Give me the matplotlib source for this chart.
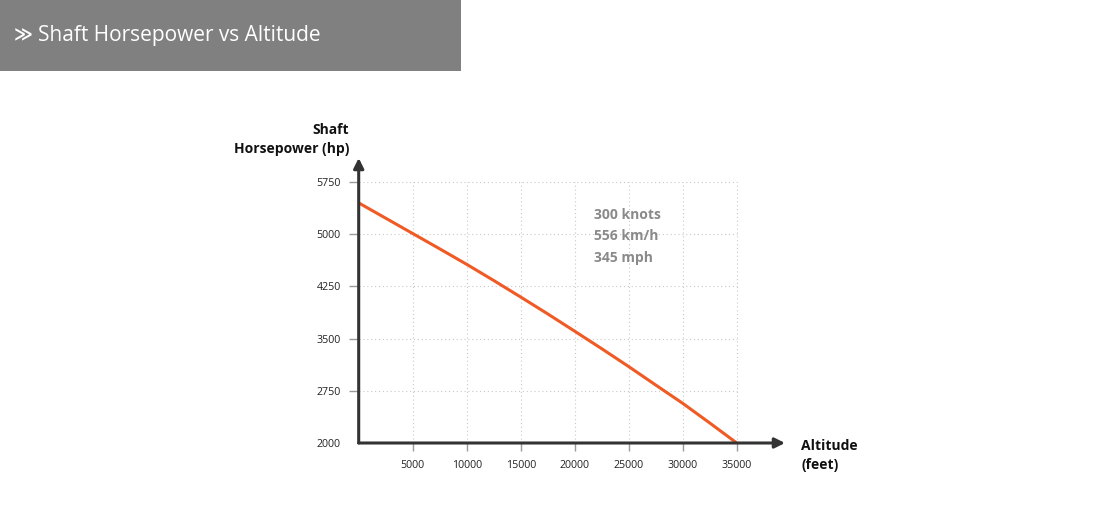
import numpy as np
import matplotlib.pyplot as plt
from matplotlib.patches import Rectangle

plt.rcParams['font.family'] = ['Open Sans', 'DejaVu Sans']

# Datos
altitud = [0, 2500, 5000, 7500, 10000, 12500, 15000, 17500,
           20000, 22500, 25000, 27500, 30000, 32500, 35000]
potencia = [5450, 5230, 5010, 4790, 4567, 4335, 4097, 3855,
            3606, 3355, 3098, 2833, 2570, 2288, 2000]

xticks = [5000, 10000, 15000, 20000, 25000, 30000, 35000]
yticks = [2000, 2750, 3500, 4250, 5000, 5750]
nota = ["300 knots", "556 km/h", "345 mph"]

fig = plt.figure(figsize=(11, 5.3), dpi=100)

# Cabecera gris
fig.patches.append(Rectangle((0, 1 - 71 / 530), 461 / 1100, 71 / 530,
                             transform=fig.transFigure, facecolor='#808080',
                             edgecolor='none'))
fig.text(14 / 1100, 1 - 35 / 530, "\u226B", color='white', fontsize=13,
         va='center', ha='left', family=['DejaVu Sans'], fontweight='bold')
fig.text(38 / 1100, 1 - 35 / 530, "Shaft Horsepower vs Altitude", color='white',
         fontsize=15, va='center', ha='left')

ax = fig.add_axes([358.7 / 1100, 87 / 530, 426.3 / 1100, 285 / 530])
ax.set_xlim(0, 39470)
ax.set_ylim(2000, 6095)

# Rejilla punteada limitada al area de datos
ax.hlines(yticks[1:], 0, 35000, colors='#c8c8c8', linestyles=(0, (1, 2.5)), linewidth=0.8)
ax.vlines(xticks, 2000, 5750, colors='#c8c8c8', linestyles=(0, (1, 2.5)), linewidth=0.8)

ax.plot(altitud, potencia, color='#f05a24', linewidth=2.2, solid_capstyle='butt', zorder=3)

for s in ax.spines.values():
    s.set_visible(False)

# Ejes con flechas
ax.annotate('', xy=(1.0, 0), xytext=(0, 0), xycoords='axes fraction',
            arrowprops=dict(arrowstyle='-|>,head_length=0.6,head_width=0.3',
                            color='#333333', lw=2.2, shrinkA=0, shrinkB=0))
ax.annotate('', xy=(0, 1.0), xytext=(0, 0), xycoords='axes fraction',
            arrowprops=dict(arrowstyle='-|>,head_length=0.6,head_width=0.3',
                            color='#333333', lw=2.2, shrinkA=0, shrinkB=0))

ax.set_xticks(xticks)
ax.set_xticklabels([str(v) for v in xticks])
ax.set_yticks(yticks)
ax.set_yticklabels([str(v) for v in yticks])
ax.tick_params(axis='x', direction='out', length=6, width=1, color='#999999',
               labelsize=7.7, labelcolor='#222222', pad=6)
ax.tick_params(axis='y', direction='out', length=7, width=1, color='#999999',
               labelsize=7.7, labelcolor='#222222', pad=6)
ax.get_yticklines()[0].set_visible(False)

fig.text(349 / 1100, 1 - 130 / 530, "Shaft", ha='right', va='center',
         fontsize=10, fontweight='bold', color='#111111')
fig.text(349 / 1100, 1 - 149 / 530, "Horsepower (hp)", ha='right', va='center',
         fontsize=10, fontweight='bold', color='#111111')
fig.text(801 / 1100, 1 - 446 / 530, "Altitude", ha='left', va='center',
         fontsize=10, fontweight='bold', color='#111111')
fig.text(801 / 1100, 1 - 465 / 530, "(feet)", ha='left', va='center',
         fontsize=10, fontweight='bold', color='#111111')

for i, t in enumerate(nota):
    fig.text(594 / 1100, 1 - (215 + 21.5 * i) / 530, t, ha='left', va='center',
             fontsize=10, fontweight='bold', color='#8a8a8a')

fig.savefig('out.png', dpi=100)
